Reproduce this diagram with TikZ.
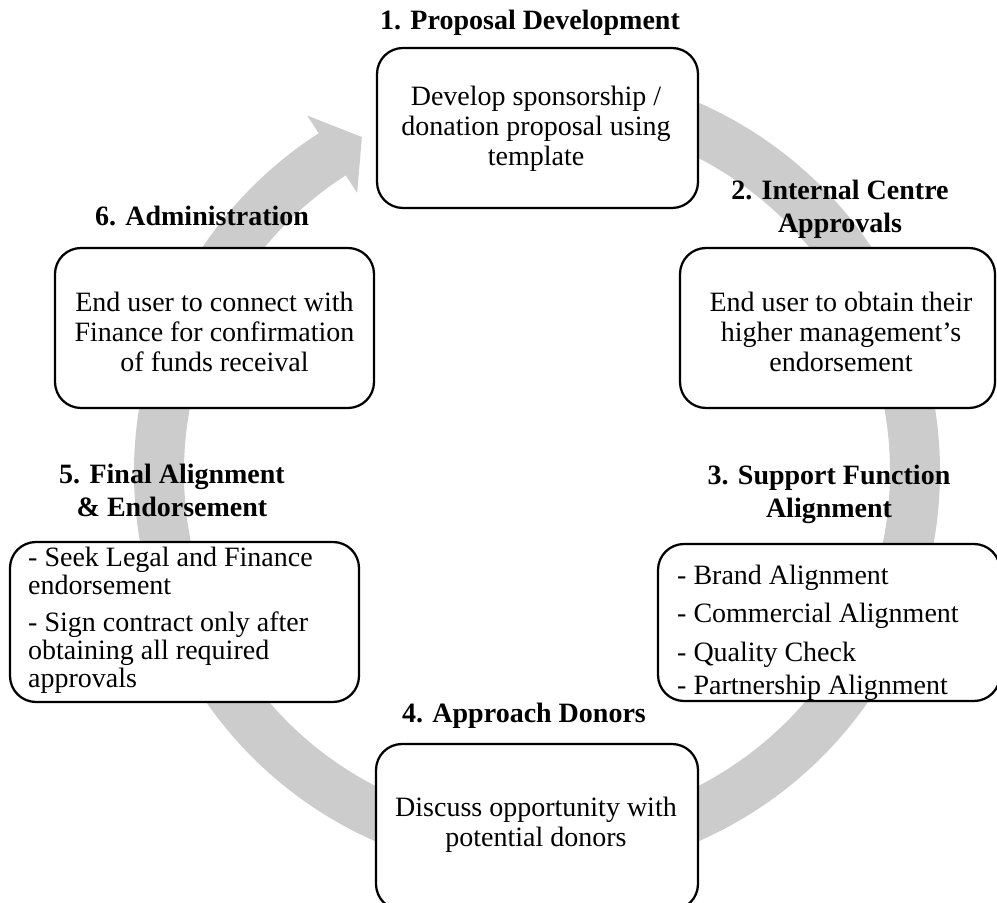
\documentclass[tikz,border=0pt]{standalone}
\usepackage{fontspec}
\setmainfont{Liberation Serif}
\definecolor{ringgray}{RGB}{204,204,204}
\tikzset{
  box/.style={draw=black, line width=2.25pt, rounded corners=26pt, fill=white, inner sep=0pt},
  ttl/.style={font=\fontsize{28}{33}\selectfont\bfseries, align=center, anchor=base, inner sep=0pt},
  txt/.style={font=\fontsize{28}{30}\selectfont, align=center, anchor=base, inner sep=0pt},
  ltxt/.style={font=\fontsize{28}{28}\selectfont, align=left, anchor=base west, inner sep=0pt},
}
\begin{document}
\begin{tikzpicture}[x=1pt,y=1pt]
\useasboundingbox (0,0) rectangle (997,903);
\clip (0,0) rectangle (997,903);
% ring arrow
\begin{scope}[shift={(537,431)}]
\fill[ringgray] (85:403pt) arc[start angle=85, end angle=-237.2, radius=403pt]
  -- (122.8:424pt) -- (117.6:378pt) -- (122.8:332pt) -- (122.8:353pt)
  arc[start angle=-237.2, end angle=85, radius=353pt] -- cycle;
\end{scope}
% boxes
\node[box, minimum width=321pt, minimum height=160pt] (b1) at (537.5,775) {};
\node[box, minimum width=315pt, minimum height=160pt] (b2) at (837.5,575) {};
\node[box, minimum width=342pt, minimum height=157pt] (b3) at (829,280.5) {};
\node[box, minimum width=322pt, minimum height=166pt] (b4) at (537,76) {};
\node[box, minimum width=349pt, minimum height=160pt] (b5) at (184.5,281) {};
\node[box, minimum width=319pt, minimum height=160pt] (b6) at (214.5,575) {};
% titles (anchor = baseline of last line)
\node[ttl] (t1) at (530,873) {1. Proposal Development};
\node[ttl] (t2) at (840,670) {2. Internal Centre\\Approvals};
\node[ttl] (t3) at (829,385) {3. Support Function\\Alignment};
\node[ttl] (t4) at (524,180) {4. Approach Donors};
\node[ttl] (t5) at (172,386) {5. Final Alignment\\\& Endorsement};
\node[ttl] (t6) at (202,677) {6. Administration};
% texts (anchor = baseline of last line)
\node[txt] (x1) at (536,737) {Develop sponsorship /\\donation proposal using\\template};
\node[txt] (x2) at (841,531) {End user to obtain their\\higher management's\\endorsement};
\node[ltxt] (x3a) at (677,318) {- Brand Alignment};
\node[ltxt] (x3b) at (677,280) {- Commercial Alignment};
\node[ltxt] (x3c) at (677,241) {- Quality Check};
\node[ltxt] (x3d) at (677,208) {- Partnership Alignment};
\node[txt] (x4) at (536,56) {Discuss opportunity with\\potential donors};
\node[ltxt] (x5a) at (28,308) {- Seek Legal and Finance\\endorsement};
\node[ltxt] (x5b) at (28,215) {- Sign contract only after\\obtaining all required\\approvals};
\node[txt] (x6) at (214.5,531) {End user to connect with\\Finance for confirmation\\of funds receival};
\end{tikzpicture}
\end{document}
